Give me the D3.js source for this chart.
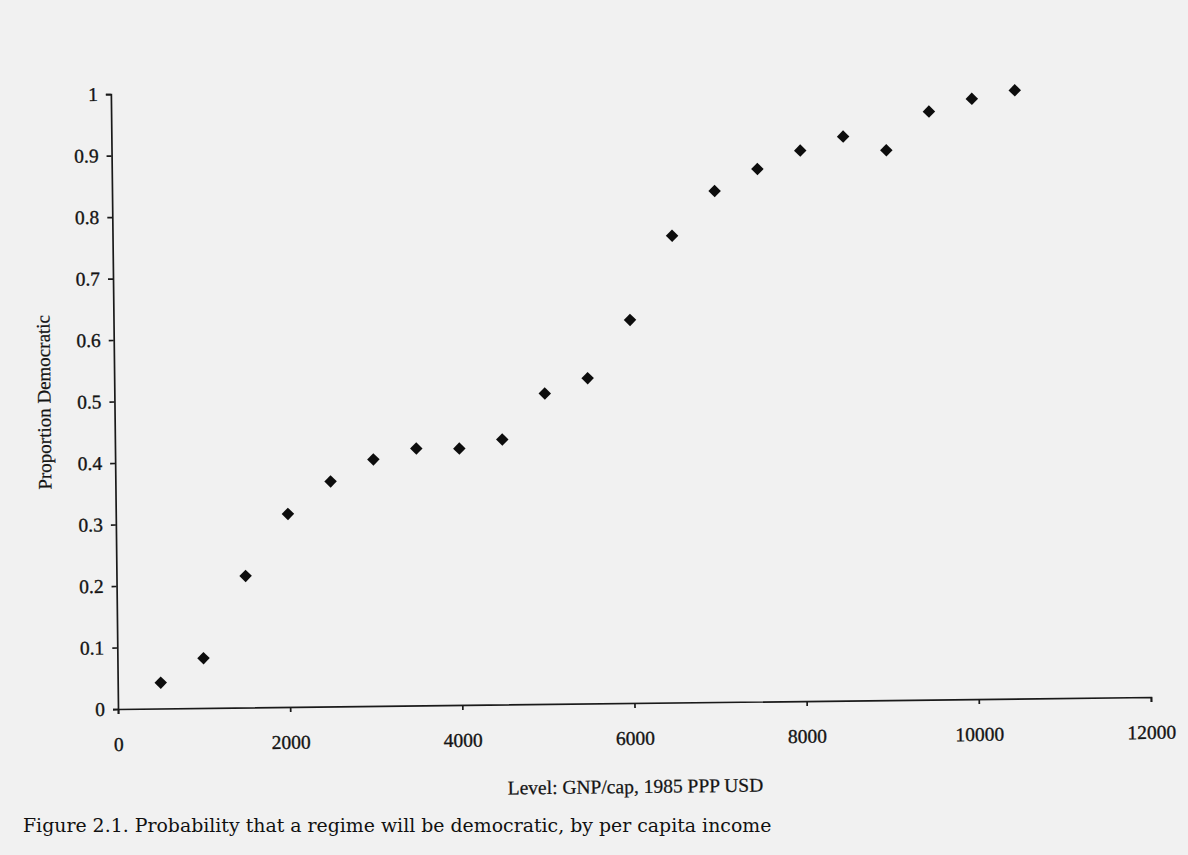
<!DOCTYPE html>
<html>
<head>
<meta charset="utf-8">
<script src="https://cdn.jsdelivr.net/npm/d3@7"></script>
<style>
  body { margin: 0; background: #f1f1f1; }
  svg { display: block; }
</style>
</head>
<body>
<script>
// GNP per capita (1985 PPP USD) bins and share of regimes that are democratic
const incomeLevels = [500, 1000, 1500, 2000, 2500, 3000, 3500, 4000, 4500, 5000,
                      5500, 6000, 6500, 7000, 7500, 8000, 8500, 9000, 9500, 10000, 10500];
const proportionDemocratic = [0.042, 0.081, 0.214, 0.314, 0.366, 0.401, 0.418, 0.417, 0.431, 0.505,
                              0.529, 0.623, 0.759, 0.831, 0.866, 0.895, 0.917, 0.894, 0.956, 0.976, 0.989];
const xTicks = [0, 2000, 4000, 6000, 8000, 10000, 12000];
const yTicks = [0, 0.1, 0.2, 0.3, 0.4, 0.5, 0.6, 0.7, 0.8, 0.9, 1];

const width = 1188, height = 855;
const serif = "'Liberation Serif', 'Times New Roman', serif";

const svg = d3.select("body").append("svg")
    .attr("width", width)
    .attr("height", height);

svg.append("rect")
    .attr("width", width)
    .attr("height", height)
    .attr("fill", "#f1f1f1");

// the printed figure sits slightly tilted on the scanned page
const chart = svg.append("g")
    .attr("transform", "translate(118,709) rotate(-0.665)");

const x = d3.scaleLinear().domain([0, 12000]).range([0, 1033]);
const y = d3.scaleLinear().domain([0, 1]).range([0, -615]);

const xAxis = chart.append("g")
    .call(d3.axisBottom(x).tickValues(xTicks).tickSize(5).tickPadding(23).tickFormat(d3.format("d")));

const yAxis = chart.append("g")
    .call(d3.axisLeft(y).tickValues(yTicks).tickSize(5).tickPadding(8).tickFormat(d => String(+d.toFixed(1))));

[xAxis, yAxis].forEach(a => {
    a.selectAll("path, line").attr("stroke", "#1a1a1a").attr("stroke-width", 1.7);
    a.selectAll("text")
        .style("font-family", serif)
        .style("font-size", "19.5px")
        .attr("fill", "#141414")
        .attr("stroke", "#141414")
        .attr("stroke-width", 0.35);
});

chart.append("g")
    .selectAll("path")
    .data(incomeLevels)
    .enter().append("path")
    .attr("d", d3.symbol().type(d3.symbolSquare).size(78))
    .attr("transform", (d, i) => `translate(${x(d)},${y(proportionDemocratic[i])}) rotate(45)`)
    .attr("fill", "#0d0d0d");

chart.append("text")
    .attr("x", x(6000))
    .attr("y", 90)
    .attr("text-anchor", "middle")
    .style("font-family", serif)
    .style("font-size", "19.5px")
    .attr("fill", "#141414")
    .attr("stroke", "#141414")
    .attr("stroke-width", 0.25)
    .text("Level: GNP/cap, 1985 PPP USD");

chart.append("text")
    .attr("transform", `translate(-64,${y(0.5)}) rotate(-90)`)
    .attr("text-anchor", "middle")
    .style("font-family", serif)
    .style("font-size", "19px")
    .attr("fill", "#141414")
    .attr("stroke", "#141414")
    .attr("stroke-width", 0.25)
    .text("Proportion Democratic");

svg.append("text")
    .attr("x", 23)
    .attr("y", 832)
    .style("font-family", "'DejaVu Serif', serif")
    .style("font-size", "18.9px")
    .attr("fill", "#111")
    .text("Figure 2.1. Probability that a regime will be democratic, by per capita income");
</script>
</body>
</html>
